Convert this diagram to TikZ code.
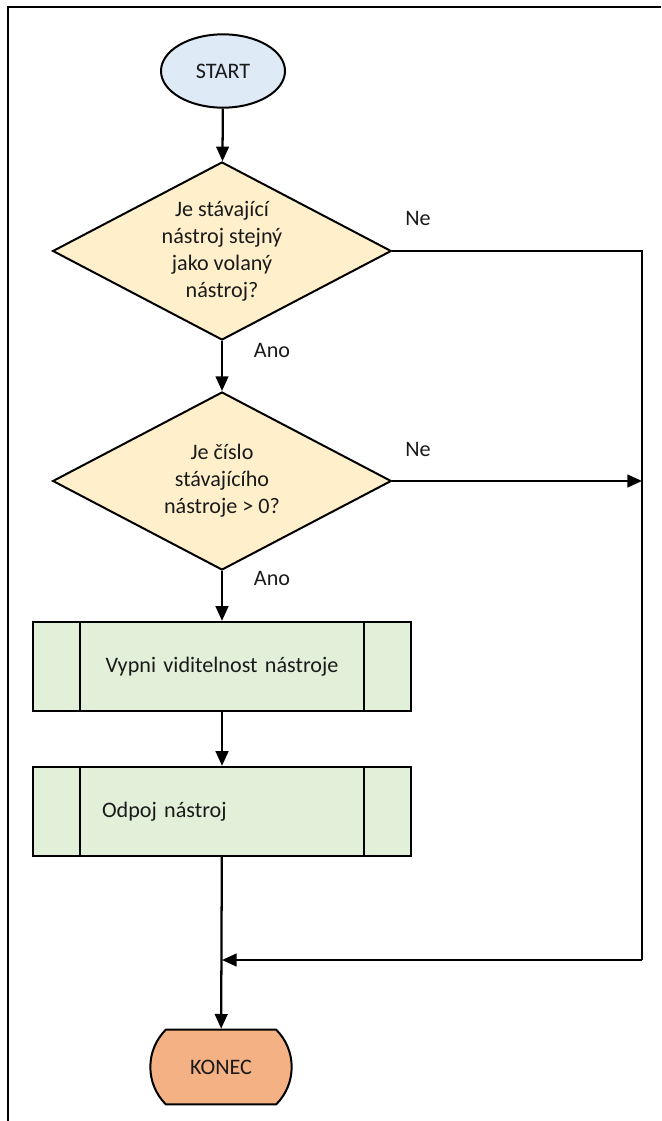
\documentclass[tikz,border=0pt]{standalone}
\usepackage{fontspec}
\setmainfont{Carlito}
\usepackage{tikz}
\usetikzlibrary{shapes.geometric, shapes.misc, arrows.meta, calc}
\definecolor{startfill}{HTML}{DEEAF6}
\definecolor{testfill}{HTML}{FFF0CB}
\definecolor{procfill}{HTML}{E2EFD9}
\definecolor{endfill}{HTML}{F4B183}
\definecolor{ink}{HTML}{1A1A1A}

\tikzset{
  flow/.style={draw=black, line width=1.7pt, -{Triangle[length=11pt,width=9.5pt]}},
  plain/.style={draw=black, line width=1.7pt},
  terminal/.style={ellipse, draw=black, line width=1.5pt, fill=startfill,
    minimum width=93pt, minimum height=55pt, inner sep=0pt},
  endbox/.style={rounded rectangle, rounded rectangle arc length=90, draw=black,
    line width=1.5pt, fill=endfill, minimum width=106pt, minimum height=56pt, inner sep=0pt},
  test/.style={diamond, aspect=1.9, draw=black, line width=1.5pt, fill=testfill, inner sep=0pt,
    minimum width=254pt, minimum height=133.5pt, align=center},
  procbox/.style={rectangle, draw=black, line width=1.5pt, fill=procfill,
    minimum width=283.5pt, minimum height=67pt, text width=180pt,
    path picture={
      \draw[line width=1.3pt] ([xshift=35pt]path picture bounding box.north west)
        -- ([xshift=35pt]path picture bounding box.south west);
      \draw[line width=1.3pt] ([xshift=-35pt]path picture bounding box.north east)
        -- ([xshift=-35pt]path picture bounding box.south east);
    }},
  answer/.style={anchor=center, inner sep=1pt}
}

\begin{document}
\begin{tikzpicture}[x=0.75pt, y=-0.75pt,
  every node/.style={font=\fontsize{16.6}{20.3}\selectfont, text=ink}]
  \useasboundingbox (0,0) rectangle (661,1121);

  % page frame (open at the right and at the bottom)
  \draw[line width=1.6pt] (8,1121) -- (8,7) -- (661,7);

  % nodes
  \node[terminal] (start) at (223,71) {START};
  \node[test] (tool) at (222,251) {Je stávající\\nástroj stejný\\jako volaný\\nástroj?};
  \node[test] (num) at (222,481) {Je číslo\\stávajícího\\nástroje > 0?};
  \node[procbox, align=center] (hide) at (222,666.5) {Vypni viditelnost nástroje};
  \node[procbox, align=left] (detach) at (222,811.5) {Odpoj nástroj};
  \node[endbox] (stop) at (221,1067) {KONEC};

  \coordinate (rtop) at (642,251);
  \coordinate (rmid) at (642,481);
  \coordinate (rbot) at (642,960);
  \coordinate (join) at (222,960);

  % main line
  \draw[flow] (start) -- (tool);
  \draw[flow] (tool) -- (num);
  \draw[flow] (num) -- (hide);
  \draw[flow] (hide) -- (detach);
  \draw[flow] (detach) -- (stop);

  % "Ne" branches
  \draw[plain] (tool.east) -- (rtop) -- (rbot);
  \draw[flow] (num.east) -- (rmid);
  \draw[flow] (rbot) -- (join);

  % answers
  \node[answer] (no1) at (418,218) {Ne};
  \node[answer] (no2) at (418,449) {Ne};
  \node[answer] (yes1) at (272,350) {Ano};
  \node[answer] (yes2) at (272,578) {Ano};
\end{tikzpicture}
\end{document}
